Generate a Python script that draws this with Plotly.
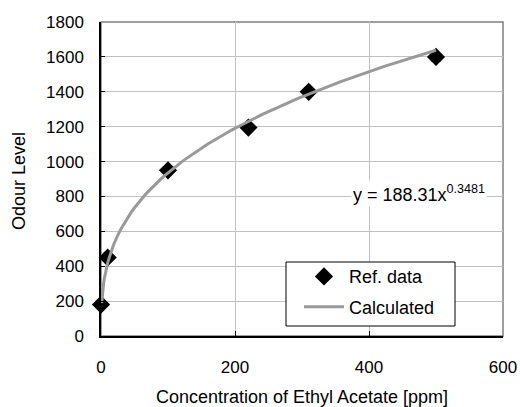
import numpy as np
import plotly.graph_objects as go

# Reference measurements: concentration [ppm] vs odour level
conc_ppm = [0, 10, 100, 220, 310, 500]
odour_level = [180, 450, 950, 1195, 1400, 1600]

# Fitted power law y = a * x^b
fit_a = 188.31
fit_b = 0.3481
fit_x = np.concatenate([np.arange(1, 20, 1), np.arange(20, 501, 5)])
fit_y = fit_a * fit_x ** fit_b

x_ticks = [0, 200, 400, 600]
y_ticks = list(range(0, 1801, 200))

FONT = "Liberation Sans, Arial, sans-serif"

fig = go.Figure()

fig.add_trace(go.Scatter(
    x=conc_ppm, y=odour_level, mode="markers", name="Ref. data",
    marker=dict(symbol="diamond", size=14, color="black"),
    cliponaxis=False, legendgroup="ref",
))
fig.add_trace(go.Scatter(
    x=fit_x, y=fit_y, mode="lines", name="Calculated",
    line=dict(color="#999999", width=3), legendgroup="calc",
))

fig.update_layout(
    width=520, height=407,
    margin=dict(l=101, r=17, t=22, b=71),
    paper_bgcolor="white", plot_bgcolor="white",
    font=dict(family=FONT, size=17, color="black"),
    showlegend=True,
    legend=dict(
        x=0.4925, y=0.2477, xanchor="left", yanchor="top",
        borderwidth=0, bgcolor="rgba(0,0,0,0)",
        font=dict(size=18), itemwidth=40, tracegroupgap=4,
    ),
    shapes=[
        # plot-area frame (top/right edges show in grey)
        dict(type="rect", xref="paper", yref="paper", x0=0, y0=0, x1=1, y1=1,
             line=dict(color="#808080", width=1.5), layer="below"),
        # legend box
        dict(type="rect", xref="paper", yref="paper",
             x0=(286 - 101) / 402, x1=(455 - 101) / 402,
             y0=(336 - 326) / 314, y1=(336 - 262) / 314,
             line=dict(color="black", width=1), fillcolor="white",
             layer="above"),
    ],
    annotations=[
        dict(x=475, y=800, xref="x", yref="y",
             text="y = 188.31x<sup>0.3481</sup>", showarrow=False,
             font=dict(size=18), bgcolor="white", yshift=3),
        # y-axis title
        dict(x=(19 - 101) / 402, y=(336 - 181) / 314, xref="paper", yref="paper",
             text="Odour Level", textangle=-90, showarrow=False,
             xanchor="center", yanchor="middle", font=dict(size=18)),
    ],
)

fig.update_xaxes(
    range=[0, 600], tickvals=x_ticks, showgrid=True,
    gridcolor="#c0c0c0", gridwidth=1,
    showline=True, linecolor="black", linewidth=1.5,
    ticks="inside", ticklen=5, tickcolor="black",
    zeroline=False, ticklabelstandoff=15, automargin=False,
    title=dict(text="Concentration of Ethyl Acetate [ppm]", standoff=20,
               font=dict(size=18)),
)
fig.update_yaxes(
    range=[0, 1800], tickvals=y_ticks, showgrid=True,
    gridcolor="#c0c0c0", gridwidth=1,
    showline=True, linecolor="black", linewidth=1.5,
    ticks="inside", ticklen=4, tickcolor="black",
    zeroline=False, ticklabelstandoff=12, automargin=False,
)

fig.write_html("out.html")
